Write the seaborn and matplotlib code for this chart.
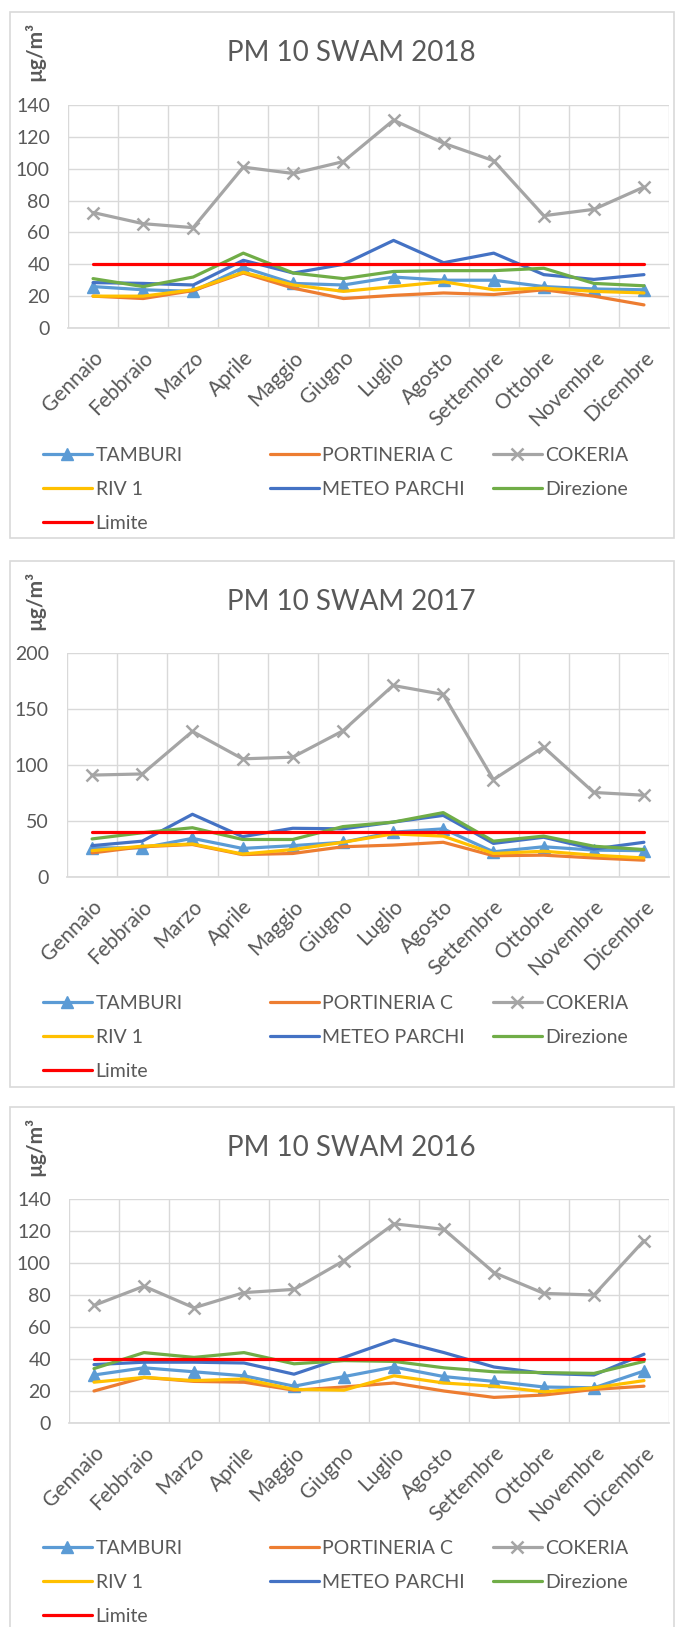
import numpy as np
import pandas as pd
import seaborn as sns
import matplotlib.pyplot as plt
from matplotlib.patches import Rectangle

# months and stations
mesi = ["Gennaio", "Febbraio", "Marzo", "Aprile", "Maggio", "Giugno",
        "Luglio", "Agosto", "Settembre", "Ottobre", "Novembre", "Dicembre"]
stazioni = ["TAMBURI", "PORTINERIA C", "COKERIA", "RIV 1", "METEO PARCHI", "Direzione", "Limite"]

# PM10 2018
tamburi_2018 = [26, 24, 23, 38, 28, 27, 32, 30, 30, 26, 24.5, 24]
portineria_2018 = [20, 18.5, 23.5, 34.5, 25, 18.5, 20.5, 22, 21, 24, 20, 14.5]
cokeria_2018 = [72.5, 65.5, 63, 101, 97, 104.5, 130.5, 116, 105, 70.5, 74.5, 88.5]
riv1_2018 = [20, 20, 24, 35, 27, 23, 26, 29, 24, 25, 23, 22]
meteo_2018 = [28.5, 28, 27, 42.5, 34.5, 40, 55, 41, 47, 33.5, 30.5, 33.5]
direzione_2018 = [31, 26, 32, 47, 34.5, 31, 35.5, 36, 36, 37.5, 28, 26.5]
limite_2018 = [40, 40, 40, 40, 40, 40, 40, 40, 40, 40, 40, 40]

# PM10 2017
tamburi_2017 = [26, 26, 34.5, 25.5, 28, 31, 40, 43, 22.5, 27, 24, 23.5]
portineria_2017 = [21.5, 27, 29, 20, 21, 27, 28.5, 31, 19, 19.5, 17, 15]
cokeria_2017 = [91, 92, 130, 105.5, 107, 130.5, 171, 163, 87, 116, 75.5, 73]
riv1_2017 = [23.5, 27.5, 29.5, 20.5, 24.5, 31, 38.5, 36.5, 21, 23, 19.5, 17]
meteo_2017 = [28, 32, 56, 36, 43.5, 43, 49, 55, 30, 35.5, 25, 31]
direzione_2017 = [34, 39.5, 44, 33.5, 33.5, 45, 49, 57.5, 32, 36.5, 27.5, 24.5]
limite_2017 = [40, 40, 40, 40, 40, 40, 40, 40, 40, 40, 40, 40]

# PM10 2016
tamburi_2016 = [30, 34.5, 32, 29.5, 23, 29, 35, 29, 26, 22.5, 22, 32.5]
portineria_2016 = [20, 28.5, 26, 25.5, 20.5, 22.5, 25, 20, 16, 17.5, 21, 23]
cokeria_2016 = [73.5, 85.5, 72, 81.5, 83.5, 101.5, 124.5, 121, 94, 81, 80, 114]
riv1_2016 = [25.5, 28.5, 26.5, 27.5, 21, 20.5, 29.5, 25, 23, 19.5, 22, 26.5]
meteo_2016 = [36.5, 38, 38, 37.5, 30.5, 41, 52, 44, 35, 31, 30, 43]
direzione_2016 = [34, 44, 41, 44, 37, 39, 38.5, 34.5, 32, 31.5, 31, 38.5]
limite_2016 = [40, 40, 40, 40, 40, 40, 40, 40, 40, 40, 40, 40]

colori = {"TAMBURI": "#5B9BD5", "PORTINERIA C": "#ED7D31", "COKERIA": "#A5A5A5",
          "RIV 1": "#FFC000", "METEO PARCHI": "#4472C4", "Direzione": "#70AD47",
          "Limite": "#FF0000"}
marcatori = {"TAMBURI": "^", "COKERIA": "x"}

sns.set_theme(style="white")
plt.rcParams["font.family"] = ["Lato", "DejaVu Sans"]
TXT = "#595959"
GRID = "#D9D9D9"

W, H = 677, 1627
fig = plt.figure(figsize=(W / 100, H / 100), dpi=100)


def fx(px):
    return px / W


def fy(py):
    return 1 - py / H


def make_df(serie):
    rows = []
    for nome, valori in zip(stazioni, serie):
        for i, v in enumerate(valori):
            rows.append({"stazione": nome, "pos": i, "mese": mesi[i], "valore": v})
    return pd.DataFrame(rows)


pannelli = [
    ("PM 10 SWAM 2018", make_df([tamburi_2018, portineria_2018, cokeria_2018, riv1_2018,
                                 meteo_2018, direzione_2018, limite_2018]),
     140, 20, (12, 538), (68, 105, 669, 328), 447, 51),
    ("PM 10 SWAM 2017", make_df([tamburi_2017, portineria_2017, cokeria_2017, riv1_2017,
                                 meteo_2017, direzione_2017, limite_2017]),
     200, 50, (561, 1087), (67, 653, 669, 877), 995, 600),
    ("PM 10 SWAM 2016", make_df([tamburi_2016, portineria_2016, cokeria_2016, riv1_2016,
                                 meteo_2016, direzione_2016, limite_2016]),
     140, 20, (1107, 1640), (69, 1199, 669, 1423), 1540, 1146),
]

for titolo, df, ymax, ystep, box, rect, leg_top, ylab_y in pannelli:
    # chart area border
    fig.add_artist(Rectangle((fx(10), fy(box[1])), fx(674) - fx(10), fy(box[0]) - fy(box[1]),
                             transform=fig.transFigure, fill=False, edgecolor=GRID, lw=1.2))
    x0, y0, x1, y1 = rect
    ax = fig.add_axes([fx(x0), fy(y1), fx(x1) - fx(x0), fy(y0) - fy(y1)])

    for nome in stazioni:
        sub = df[df["stazione"] == nome]
        m = marcatori.get(nome)
        kw = {}
        if m == "^":
            kw = dict(marker="^", markersize=8, markeredgecolor=colori[nome], markeredgewidth=1)
        elif m == "x":
            kw = dict(marker="x", markersize=8, markeredgecolor=colori[nome], markeredgewidth=1.8)
        sns.lineplot(data=sub, x="pos", y="valore", color=colori[nome], linewidth=2.3,
                     errorbar=None, label=nome, legend=False, ax=ax, **kw)

    ax.set_xlim(-0.5, len(mesi) - 0.5)
    ax.set_ylim(0, ymax)
    ax.set_yticks(np.arange(0, ymax + 1, ystep))
    ax.set_xticks(np.arange(len(mesi)))
    ax.set_xticks(np.arange(-0.5, len(mesi)), minor=True)
    ax.set_xticklabels(mesi, rotation=45, ha="right", va="top", rotation_mode="anchor")
    ax.grid(axis="y", color=GRID, lw=1)
    ax.grid(axis="x", which="minor", color=GRID, lw=1)
    ax.tick_params(axis="both", which="both", length=0, labelcolor=TXT)
    ax.tick_params(axis="y", labelsize=14, pad=13)
    ax.tick_params(axis="x", labelsize=15, pad=14)
    for s in ["top", "right", "left"]:
        ax.spines[s].set_visible(False)
    ax.spines["bottom"].set_color(GRID)
    ax.set_xlabel("")
    ax.set_ylabel("")
    ax.set_axisbelow(True)

    fig.text(fx(351), fy(box[0] + 41), titolo, ha="center", va="center",
             fontsize=20, color=TXT)
    fig.text(fx(35), fy(ylab_y), "µg/m³", rotation=90, ha="center", va="center",
             fontsize=15, fontweight="bold", color=TXT)

    handles, labels = ax.get_legend_handles_labels()
    hmap = dict(zip(labels, handles))
    colonne = [(["TAMBURI", "RIV 1", "Limite"], 43),
               (["PORTINERIA C", "METEO PARCHI"], 270),
               (["COKERIA", "Direzione"], 493)]
    for nomi, xl in colonne:
        fig.legend([hmap[n] for n in nomi], nomi, loc="upper left",
                   bbox_to_anchor=(fx(xl), fy(leg_top)), bbox_transform=fig.transFigure,
                   frameon=False, fontsize=14, labelcolor=TXT, handlelength=2.5,
                   handletextpad=0.2, borderpad=0, borderaxespad=0, labelspacing=0.88)

fig.savefig("out.png", dpi=100, facecolor="white")
